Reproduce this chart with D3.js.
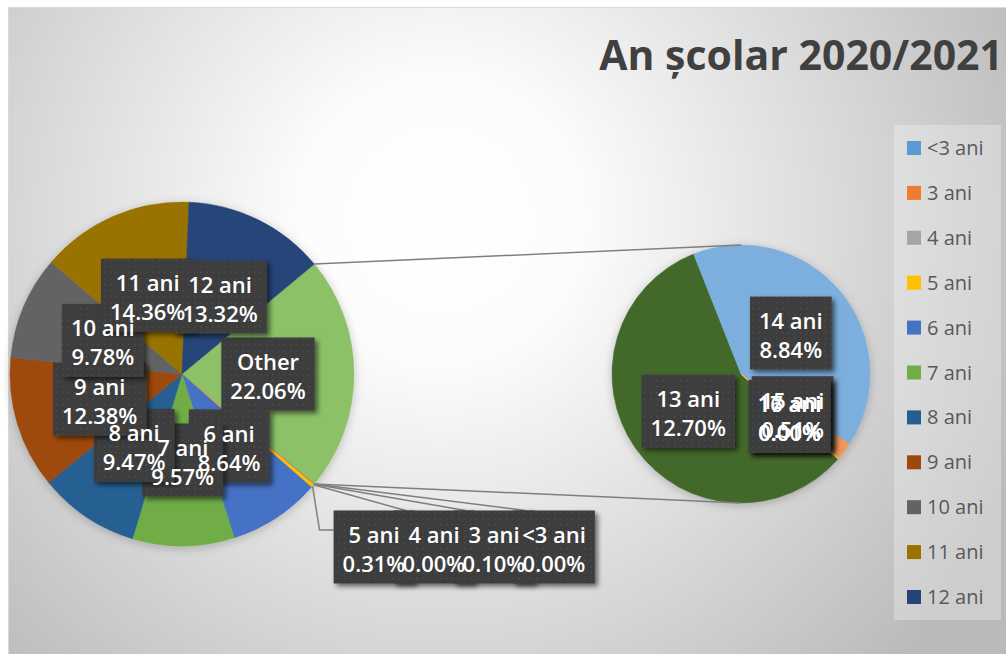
<!DOCTYPE html>
<html><head><meta charset="utf-8">
<script src="https://cdn.jsdelivr.net/npm/d3@7"></script>
<style>html,body{margin:0;padding:0;background:#fff;}svg{display:block;}</style>
</head><body>
<svg id="chart" width="1006" height="654"></svg>
<script>
// ---------- DATA ----------
const title = "An școlar 2020/2021";
const categories = ["<3 ani","3 ani","4 ani","5 ani","6 ani","7 ani","8 ani","9 ani","10 ani","11 ani","12 ani","13 ani","14 ani","15 ani","16 ani","17 ani"];
const values     = [0.00, 0.10, 0.00, 0.31, 8.64, 9.57, 9.47, 12.38, 9.78, 14.36, 13.32, 12.70, 8.84, 0.51, 0.00, 0.01];
const colors     = ["#5B9BD5","#ED7D31","#A5A5A5","#FFC000","#4472C4","#70AD47","#255E91","#9E480E","#636363","#997300","#264478","#43682B","#7CAFDD","#F1975A","#B7B7B7","#FFCD33"];
const mainCount = 11;          // points plotted in the first pie
const otherLabel = "Other";
const otherColor = "#8CC168";
const legendCount = 11;        // legend entries visible

// ---------- LAYOUT ----------
const W = 1006, H = 654;
const svg = d3.select("#chart");
const defs = svg.append("defs");
const FONT = "'Open Sans', 'DejaVu Sans', sans-serif";

const bg = defs.append("radialGradient").attr("id","bg").attr("gradientUnits","userSpaceOnUse")
  .attr("cx",440).attr("cy",220).attr("r",640);
bg.append("stop").attr("offset",0).attr("stop-color","#ffffff");
bg.append("stop").attr("offset",0.22).attr("stop-color","#fcfcfc");
bg.append("stop").attr("offset",1).attr("stop-color","#bababa");

const pat = defs.append("pattern").attr("id","dots").attr("patternUnits","userSpaceOnUse").attr("width",6).attr("height",6);
pat.append("rect").attr("width",6).attr("height",6).attr("fill","#3e3e3e");
pat.append("rect").attr("x",2).attr("y",2).attr("width",1.2).attr("height",1.2).attr("fill","#4f4f4f");

const sh = defs.append("filter").attr("id","shadow").attr("x","-20%").attr("y","-20%").attr("width","150%").attr("height","150%");
sh.append("feDropShadow").attr("dx",3).attr("dy",3).attr("stdDeviation",2.5).attr("flood-color","#000").attr("flood-opacity",0.55);
const psh = defs.append("filter").attr("id","pshadow").attr("x","-20%").attr("y","-20%").attr("width","140%").attr("height","140%");
psh.append("feDropShadow").attr("dx",0).attr("dy",2).attr("stdDeviation",5).attr("flood-color","#000").attr("flood-opacity",0.22);

svg.append("rect").attr("width",W).attr("height",H).attr("fill","#fff");
svg.append("rect").attr("x",8.5).attr("y",7.5).attr("width",W).attr("height",H)
  .attr("fill","url(#bg)").attr("stroke","#d9d9d9").attr("stroke-width",1);

// title
svg.append("text").attr("x",1003).attr("y",70).attr("text-anchor","end")
  .attr("font-family",FONT).attr("font-weight",700).attr("font-size",41)
  .attr("fill","#404040").text(title);

// ---------- PIES ----------
const deg = Math.PI/180;
const c1 = {x:182, y:374, r:172};
const c2 = {x:741, y:374, r:129, start:131.2};

const mainData = categories.slice(0,mainCount).map((c,i)=>({name:c, value:values[i], color:colors[i]}));
const secData  = categories.slice(mainCount).map((c,i)=>({name:c, value:values[mainCount+i], color:colors[mainCount+i]}));
const otherVal = d3.sum(secData, d=>d.value);
const total = d3.sum(mainData, d=>d.value) + otherVal;
const pie1Data = [{name:otherLabel, value:otherVal, color:otherColor, other:true}, ...mainData];

const a0 = Math.PI/2 - (otherVal/total)*Math.PI;
const arcs1 = d3.pie().sort(null).value(d=>d.value).startAngle(a0).endAngle(a0+2*Math.PI)(pie1Data);
const a2 = c2.start*deg;
const arcs2 = d3.pie().sort(null).value(d=>d.value).startAngle(a2).endAngle(a2+2*Math.PI)(secData);

const arc1 = d3.arc().innerRadius(0).outerRadius(c1.r);
const arc2 = d3.arc().innerRadius(0).outerRadius(c2.r);

const g1 = svg.append("g").attr("transform",`translate(${c1.x},${c1.y})`).attr("filter","url(#pshadow)");
g1.selectAll("path").data(arcs1).join("path").attr("d",arc1).attr("fill",d=>d.data.color)
  .attr("stroke",d=>d.data.color).attr("stroke-width",0.5);
const g2 = svg.append("g").attr("transform",`translate(${c2.x},${c2.y})`).attr("filter","url(#pshadow)");
g2.selectAll("path").data(arcs2).join("path").attr("d",arc2).attr("fill",d=>d.data.color)
  .attr("stroke",d=>d.data.color).attr("stroke-width",0.5);

// connector lines between pies
const oth = arcs1[0];
const pt = (c,a,r)=>[c.x + r*Math.sin(a), c.y - r*Math.cos(a)];
const conn = svg.append("g").attr("stroke","#7f7f7f").attr("stroke-width",1.5).attr("fill","none");
conn.append("line").attr("x1",pt(c1,oth.startAngle,c1.r)[0]).attr("y1",pt(c1,oth.startAngle,c1.r)[1])
  .attr("x2",c2.x).attr("y2",c2.y-c2.r);
conn.append("line").attr("x1",pt(c1,oth.endAngle,c1.r)[0]).attr("y1",pt(c1,oth.endAngle,c1.r)[1])
  .attr("x2",c2.x).attr("y2",c2.y+c2.r);

// ---------- LABELS ----------
const fmt = v => d3.format(".2f")(v)+"%";
const labels = [];
const outside = {x0:374, step:60, y:547};
let outIdx = 0;
arcs1.forEach(a=>{
  if (a.data.other || a.data.value >= 1) {
    const [x,y] = arc1.centroid(a);
    labels.push({name:a.data.name, pct:fmt(a.data.value), x:c1.x+x, y:c1.y+y});
  }
});
// small slices of main pie (placed below, with leader lines)
const small = arcs1.filter(a=>!a.data.other && a.data.value < 1).reverse();
small.forEach(a=>{
  const mid = (a.startAngle+a.endAngle)/2;
  const p = pt(c1, mid, c1.r);
  labels.push({name:a.data.name, pct:fmt(a.data.value), x:outside.x0+outIdx*outside.step, y:outside.y, leader:p, idx:outIdx});
  outIdx++;
});
arcs2.forEach(a=>{
  const [x,y] = arc2.centroid(a);
  labels.push({name:a.data.name, pct:fmt(a.data.value), x:c2.x+x, y:c2.y+y});
});

const lg = svg.append("g");
const leaderG = lg.append("g").attr("stroke","#7f7f7f").attr("stroke-width",1.5).attr("fill","none");
const boxG = lg.append("g");
const txtG = lg.append("g").attr("font-family",FONT).attr("font-size",22).attr("font-weight",600)
  .attr("fill","#fff").attr("text-anchor","middle");

const BH = 73;
labels.forEach(l=>{
  const t1 = txtG.append("text").attr("x",l.x).attr("y",l.y-4).text(l.name);
  const t2 = txtG.append("text").attr("x",l.x).attr("y",l.y+25).text(l.pct);
  const w = Math.max(t1.node().getComputedTextLength(), t2.node().getComputedTextLength()) + 18;
  l.w = w;
  boxG.append("rect").attr("x",l.x-w/2).attr("y",l.y-BH/2).attr("width",w).attr("height",BH)
    .attr("fill","url(#dots)").attr("filter","url(#shadow)");
  if (l.leader) {
    const bx = l.x - w/2, by = l.y - BH/2;
    if (l.idx === 0) {
      leaderG.append("polyline").attr("points",[l.leader,[l.leader[0]+7,l.y-17],[bx,l.y-17]].map(p=>p.join(",")).join(" "));
    } else {
      leaderG.append("line").attr("x1",l.leader[0]).attr("y1",l.leader[1]).attr("x2",bx+12).attr("y2",by);
    }
  }
});

// ---------- LEGEND ----------
const leg = svg.append("g");
leg.append("rect").attr("x",894).attr("y",125).attr("width",107).attr("height",495)
  .attr("fill","#ffffff").attr("fill-opacity",0.28);
const step = 44.9;
categories.slice(0,legendCount).forEach((c,i)=>{
  const y = 148 + i*step;
  leg.append("rect").attr("x",907).attr("y",y-7).attr("width",14).attr("height",14).attr("fill",colors[i]);
  leg.append("text").attr("x",927).attr("y",y+7).attr("font-family",FONT).attr("font-size",20)
    .attr("fill","#595959").text(c);
});
</script>
</body></html>
